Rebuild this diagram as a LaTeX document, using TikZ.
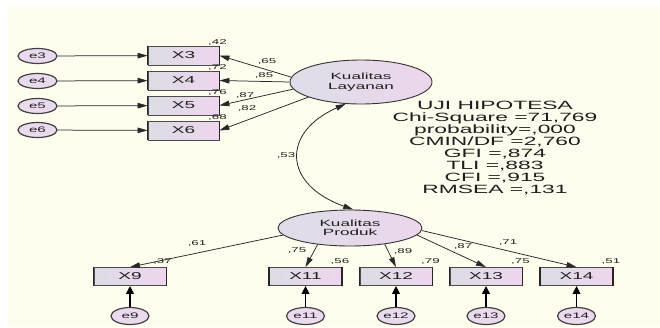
\documentclass[tikz,border=0pt]{standalone}
\usepackage{fontspec}
\setmainfont{Liberation Sans}[FakeStretch=1.9]
\usetikzlibrary{shapes.geometric,arrows.meta,calc}
\definecolor{cream}{RGB}{254,253,238}
\definecolor{boxL}{RGB}{220,220,228}
\definecolor{boxR}{RGB}{238,214,238}
\definecolor{latL}{RGB}{222,222,232}
\definecolor{latR}{RGB}{236,214,236}
\definecolor{errf}{RGB}{234,218,238}
\definecolor{lineg}{RGB}{40,40,40}
\definecolor{txt}{RGB}{30,30,30}
\begin{document}
\begin{tikzpicture}[x=1pt,y=-1pt,
  obs/.style={draw=black!70, line width=0.8pt, left color=boxL, right color=boxR,
    minimum width=71pt, minimum height=19pt, inner sep=0pt,
    font=\fontsize{10}{10}\selectfont, text=txt},
  obsb/.style={obs, minimum width=72pt, minimum height=18pt},
  sideedge/.style={draw=black!85, line width=1.5pt},
  err/.style={ellipse, draw=black!75, line width=1.2pt, fill=errf,
    minimum width=39pt, minimum height=15pt, inner sep=0pt,
    font=\fontsize{8}{8}\selectfont, text=txt},
  errb/.style={err, minimum width=38pt, minimum height=17pt},
  lat/.style={ellipse, draw=black!80, line width=0.9pt, left color=latL, right color=latR,
    inner sep=0pt, align=center, font=\fontsize{9}{9.5}\selectfont, text=txt},
  num/.style={inner sep=0pt, font=\fontsize{7}{7}\selectfont, text=txt},
  arr/.style={draw=lineg, line width=0.75pt, -{Triangle[length=10pt,width=5.5pt]}},
  earr/.style={draw=black, line width=1.7pt, -{Triangle[length=8pt,width=7.5pt]}}
]
\useasboundingbox (0,0) rectangle (660,327);
\fill[white] (0,0) rectangle (660,327);
\fill[cream] (8,7) rectangle (660,327);

% latent variables
\node[lat, minimum width=142pt, minimum height=44pt] (L) at (361,82) {Kualitas\\Layanan};
\node[lat, minimum width=144pt, minimum height=36pt] (P) at (350,228) {Kualitas\\Produk};

% left indicators
\node[obs] (X3) at (183.5,55.5) {X3};
\node[obs] (X4) at (183.5,80.5) {X4};
\node[obs] (X5) at (183.5,105.5) {X5};
\node[obs] (X6) at (183.5,130.5) {X6};
\node[err] (e3) at (37.5,56) {e3};
\node[err] (e4) at (37.5,81) {e4};
\node[err] (e5) at (37.5,106) {e5};
\node[err] (e6) at (37.5,130) {e6};

% bottom indicators
\node[obsb] (X9) at (130,276.5) {X9};
\node[obsb] (X11) at (305.5,276.5) {X11};
\node[obsb] (X12) at (396,276.5) {X12};
\node[obsb] (X13) at (486,276.5) {X13};
\node[obsb] (X14) at (576.5,276.5) {X14};
\node[errb] (e9) at (130,316) {e9};
\node[errb] (e11) at (305.5,316) {e11};
\node[errb] (e12) at (396,316) {e12};
\node[errb] (e13) at (486,316) {e13};
\node[errb] (e14) at (576.5,316) {e14};

% darker side edges of the boxes
\foreach \b in {X3,X4,X5,X6,X9,X11,X12,X13,X14} {
  \draw[sideedge] (\b.north west) -- (\b.south west);
  \draw[sideedge] (\b.north east) -- (\b.south east);
}

% error arrows
\draw[arr] (e3) -- (X3);
\draw[arr] (e4) -- (X4);
\draw[arr] (e5) -- (X5);
\draw[arr] (e6) -- (X6);
\draw[earr] (e9) -- (X9);
\draw[earr] (e11) -- (X11);
\draw[earr] (e12) -- (X12);
\draw[earr] (e13) -- (X13);
\draw[earr] (e14) -- (X14);

% loadings
\draw[arr] (L.176) -- (X3.east);
\draw[arr] (L.180) -- (X4.east);
\draw[arr] (L.186) -- (X5.east);
\draw[arr] (L.196) -- (X6.east);
\draw[arr] (P.186) -- (X9.north);
\draw[arr] (P.207) -- (X11.north);
\draw[arr] (P.335) -- (X12.north);
\draw[arr] (P.354) -- (X13.north);
\draw[arr] (P.358) -- (X14.north);

% covariance
\draw[draw=lineg, line width=0.8pt, {Triangle[length=10pt,width=5.5pt]}-{Triangle[length=10pt,width=5.5pt]}]
  (L.235) .. controls (282,132) and (282,184) .. (P.80);

% squared multiple correlations
\node[num, anchor=base] (r3) at ($(X3.north east)+(-2,-1)$) {,42};
\node[num, anchor=base] (r4) at ($(X4.north east)+(-2,-1)$) {,72};
\node[num, anchor=base] (r5) at ($(X5.north east)+(-2,-1)$) {,76};
\node[num, anchor=base] (r6) at ($(X6.north east)+(-2,-1)$) {,68};
\node[num, anchor=base] (r9) at ($(X9.north east)+(-4,-4)$) {,37};
\node[num, anchor=base] (r11) at ($(X11.north east)+(-2,-4)$) {,56};
\node[num, anchor=base] (r12) at ($(X12.north east)+(-2,-4)$) {,79};
\node[num, anchor=base] (r13) at ($(X13.north east)+(-2,-4)$) {,75};
\node[num, anchor=base] (r14) at ($(X14.north east)+(-2,-4)$) {,51};

% loading labels
\node[num] (l3) at (267,62) {,65};
\node[num] (l4) at (264,76) {,85};
\node[num] (l5) at (245,96) {,87};
\node[num] (l6) at (247,108) {,82};
\node[num] (l9) at (197,243) {,61};
\node[num] (l11) at (297,251) {,75};
\node[num] (l12) at (403,251) {,89};
\node[num] (l13) at (463,246) {,87};
\node[num] (l14) at (508,243) {,71};
\node[num] (lc) at (286,155) {,53};

% fit statistics
\node[align=center, inner sep=0pt, font=\fontsize{12}{12}\selectfont, text=txt] (fit) at (495,148)
  {UJI HIPOTESA\\Chi-Square =71,769\\probability=,000\\CMIN/DF =2,760\\GFI =,874\\TLI =,883\\CFI =,915\\RMSEA =,131};
\end{tikzpicture}
\end{document}
